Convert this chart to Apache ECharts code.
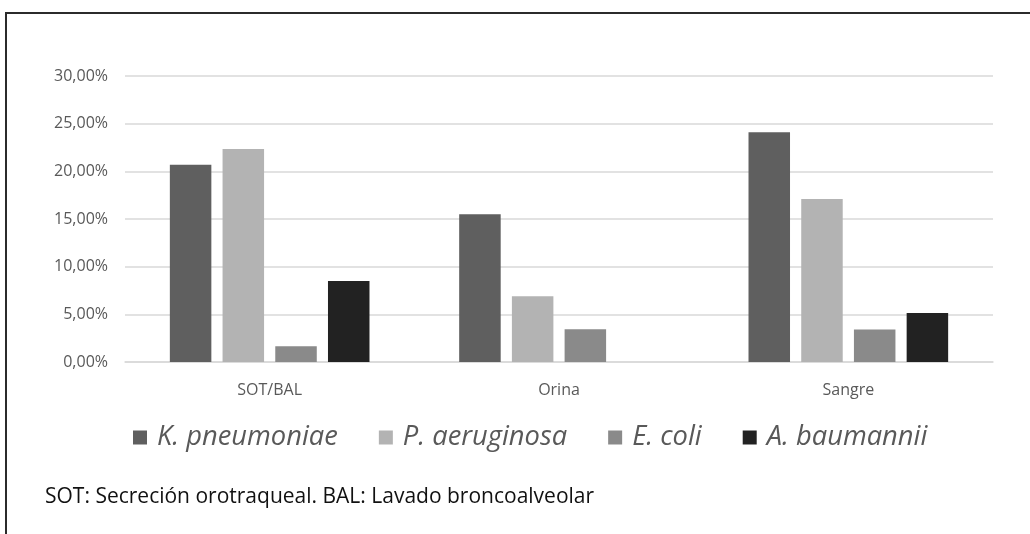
<!DOCTYPE html>
<html>
<head>
<meta charset="utf-8">
<script src="https://cdn.jsdelivr.net/npm/echarts@6/dist/echarts.min.js"></script>
<style>
  html, body { margin: 0; padding: 0; background: #fff; }
  #main { width: 1030px; height: 534px; }
</style>
</head>
<body>
<div id="main"></div>
<script>
// categorias de muestra
var categorias = ['SOT/BAL', 'Orina', 'Sangre'];

// porcentajes por germen
var kPneumoniae = [20.7, 15.5, 24.1];
var pAeruginosa = [22.35, 6.9, 17.1];
var eColi = [1.65, 3.43, 3.4];
var aBaumannii = [8.5, 0, 5.15];

var nombres = ['K. pneumoniae', 'P. aeruginosa', 'E. coli', 'A. baumannii'];
var colores = ['#5f5f5f', '#b3b3b3', '#8a8a8a', '#222222'];

var font = 'Open Sans';

var chart = echarts.init(document.getElementById('main'));

function serie(i, data){
  return {
    name: nombres[i],
    type: 'bar',
    data: data,
    barGap: '27%',
    barCategoryGap: '31%',
    itemStyle: { color: colores[i] }
  };
}

chart.setOption({
  animation: false,
  color: colores,
  textStyle: { fontFamily: font },
  title: {
    text: 'SOT: Secreción orotraqueal. BAL: Lavado broncoalveolar',
    left: 40,
    top: 482,
    textStyle: { fontFamily: font, fontSize: 21, fontWeight: 'normal', color: '#111' }
  },
  legend: {
    data: nombres,
    left: 133,
    top: 424,
    padding: 0,
    icon: 'rect',
    itemWidth: 14,
    itemHeight: 14,
    itemGap: 41,
    textStyle: {
      fontFamily: font, fontSize: 27.3, fontStyle: 'italic', color: '#595959',
      padding: [0, 0, 0, 5]
    }
  },
  grid: { left: 125, right: 37, top: 76, bottom: 172 },
  xAxis: {
    type: 'category',
    data: categorias,
    axisTick: { show: false },
    axisLine: { lineStyle: { color: '#d9d9d9', width: 1.5 } },
    axisLabel: { color: '#595959', fontSize: 16, margin: 20, fontFamily: font }
  },
  yAxis: {
    type: 'value',
    min: 0,
    max: 30,
    interval: 5,
    axisLine: { show: false },
    axisTick: { show: false },
    splitLine: { lineStyle: { color: '#d9d9d9', width: 1.5 } },
    axisLabel: {
      color: '#595959', fontSize: 16, margin: 17, fontFamily: font,
      formatter: function(v){ return v.toFixed(2).replace('.', ',') + '%'; }
    }
  },
  series: [
    serie(0, kPneumoniae),
    serie(1, pAeruginosa),
    serie(2, eColi),
    serie(3, aBaumannii)
  ],
  graphic: [{
    type: 'rect',
    silent: true,
    shape: { x: 6, y: 13, width: 1200, height: 700 },
    style: { fill: 'none', stroke: '#2b2b2b', lineWidth: 2 }
  }]
});
</script>
</body>
</html>
